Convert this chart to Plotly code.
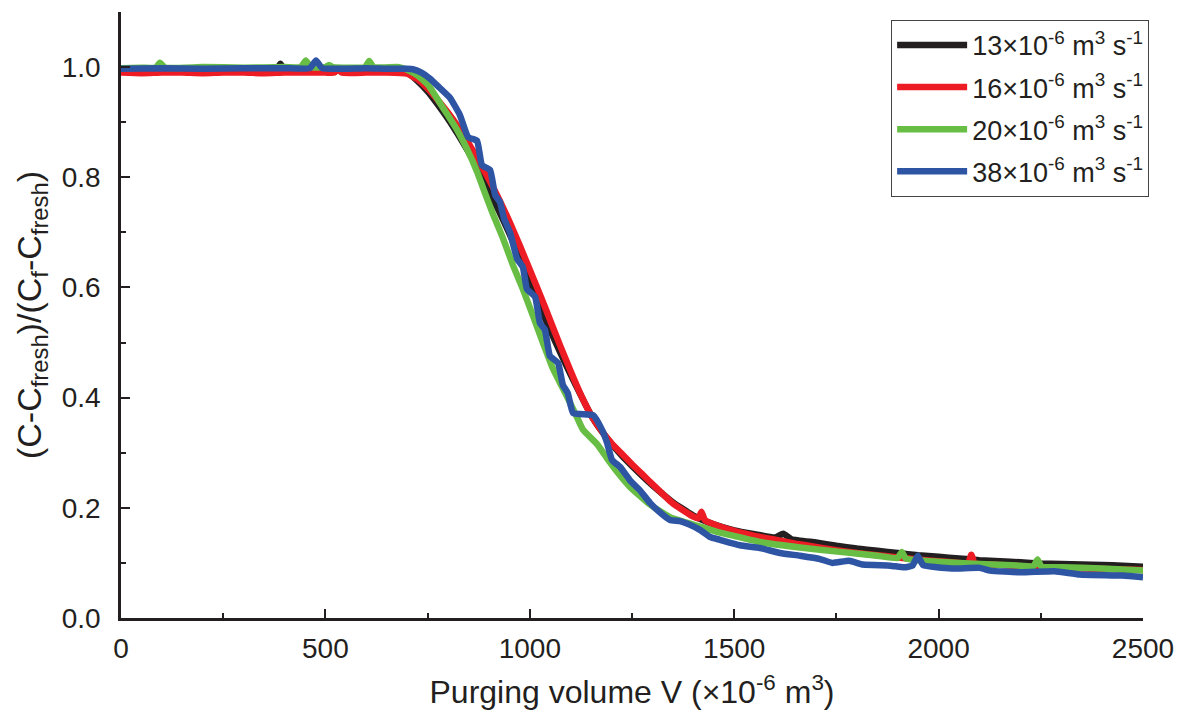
import plotly.graph_objects as go

# ---------------- data ----------------
x_13 = [0, 50, 100, 150, 200, 250, 300, 350, 380, 390, 400, 450, 500, 550, 600, 650, 700,
        725, 750, 775, 800, 825, 850, 875, 900, 925, 950, 975, 1000, 1025, 1050, 1075,
        1100, 1125, 1150, 1175, 1200, 1225, 1250, 1275, 1300, 1350, 1400, 1450, 1500,
        1550, 1600, 1620, 1640, 1700, 1750, 1800, 1850, 1900, 1950, 2000, 2050, 2100,
        2150, 2200, 2250, 2300, 2350, 2400, 2450, 2500]
y_13 = [0.993, 0.994, 0.993, 0.994, 0.993, 0.994, 0.994, 0.994, 0.995, 1.006, 0.995, 0.994,
        0.994, 0.994, 0.995, 0.994, 0.99,
        0.975, 0.956, 0.932, 0.906, 0.877, 0.846, 0.812, 0.776, 0.738, 0.698, 0.655, 0.61,
        0.565, 0.522, 0.481, 0.442, 0.404, 0.368, 0.34, 0.316, 0.295, 0.276, 0.258, 0.241,
        0.21, 0.186, 0.17, 0.159, 0.152, 0.146, 0.153, 0.143, 0.137, 0.131, 0.126, 0.122,
        0.118, 0.114, 0.111, 0.108, 0.105, 0.103, 0.101, 0.099, 0.098, 0.097, 0.096, 0.095,
        0.093]

x_16 = [0, 50, 100, 150, 200, 250, 300, 350, 400, 450, 500, 522, 531, 540, 600, 650, 700,
        725, 750, 775, 800, 825, 850, 875, 900, 925, 950, 975, 1000, 1025, 1050, 1075, 1100,
        1125, 1150, 1175, 1200, 1225, 1250, 1275, 1300, 1350, 1400, 1412, 1420, 1428, 1450,
        1500, 1550, 1600, 1650, 1700, 1750, 1800, 1850, 1900, 1950, 2000, 2050, 2072, 2080,
        2088, 2100, 2150, 2200, 2250, 2300, 2350, 2400, 2450, 2500]
y_16 = [0.99, 0.989, 0.99, 0.99, 0.989, 0.99, 0.99, 0.989, 0.99, 0.99, 0.99, 0.99, 0.997, 0.99,
        0.99, 0.99, 0.988,
        0.978, 0.961, 0.94, 0.917, 0.891, 0.862, 0.83, 0.796, 0.76, 0.72, 0.677, 0.632,
        0.587, 0.54, 0.493, 0.448, 0.405, 0.368, 0.34, 0.317, 0.298, 0.279, 0.261, 0.243,
        0.208, 0.184, 0.181, 0.193, 0.178, 0.17, 0.158, 0.149, 0.142, 0.135, 0.129, 0.123,
        0.118, 0.114, 0.11, 0.106, 0.103, 0.1, 0.099, 0.115, 0.099, 0.098, 0.096, 0.094,
        0.092, 0.091, 0.09, 0.089, 0.088, 0.087]

x_20 = [0, 50, 85, 95, 108, 200, 300, 400, 440, 452, 464, 500, 509, 518, 597, 607, 618, 680,
        700, 725, 751, 780, 800, 822, 846, 871, 886, 910, 934, 959, 983, 1008, 1032, 1057,
        1091, 1115, 1130, 1164, 1189, 1213, 1245, 1294, 1343, 1416, 1465, 1500, 1563, 1661,
        1759, 1850, 1900, 1910, 1920, 2000, 2100, 2200, 2232, 2242, 2252, 2300, 2400, 2500]
y_20 = [0.998, 0.999, 0.999, 1.008, 0.999, 1.0, 0.999, 1.0, 1.0, 1.012, 1.0, 1.0, 1.004, 1.0,
        1.0, 1.011, 1.0, 1.0,
        0.995, 0.985, 0.968, 0.935, 0.912, 0.886, 0.852, 0.81, 0.78, 0.733, 0.69, 0.64,
        0.597, 0.548, 0.5, 0.452, 0.402, 0.365, 0.342, 0.316, 0.29, 0.266, 0.238, 0.206,
        0.183, 0.166, 0.155, 0.149, 0.138, 0.128, 0.12, 0.113, 0.109, 0.12, 0.108, 0.102,
        0.098, 0.095, 0.094, 0.106, 0.093, 0.092, 0.09, 0.086]

x_38 = [0, 100, 200, 300, 400, 462, 477, 492, 550, 600, 650, 700, 714, 735, 756, 780, 805,
        829, 849, 871, 883, 903, 915, 927, 937, 952, 969, 983, 993, 1013, 1025, 1037, 1049,
        1069, 1081, 1093, 1106, 1155, 1177, 1189, 1201, 1221, 1245, 1269, 1294, 1318, 1343,
        1367, 1392, 1416, 1441, 1465, 1514, 1563, 1612, 1661, 1710, 1740, 1781, 1815, 1882,
        1915, 1936, 1949, 1962, 2032, 2101, 2126, 2201, 2284, 2345, 2450, 2500]
y_38 = [0.997, 0.998, 0.997, 0.998, 0.998, 0.998, 1.012, 0.998, 0.997, 0.998, 0.997, 0.997,
        0.996, 0.99, 0.979, 0.962, 0.944, 0.913, 0.873, 0.866, 0.822, 0.813, 0.768, 0.755,
        0.725, 0.699, 0.652, 0.637, 0.597, 0.583, 0.535, 0.523, 0.476, 0.463, 0.423, 0.408,
        0.372, 0.368, 0.341, 0.318, 0.287, 0.274, 0.25, 0.232, 0.209, 0.192, 0.178, 0.176,
        0.169, 0.16, 0.147, 0.142, 0.132, 0.127, 0.118, 0.113, 0.107, 0.1, 0.104, 0.097,
        0.095, 0.092, 0.095, 0.113, 0.096, 0.09, 0.091, 0.086, 0.083, 0.085, 0.079, 0.077,
        0.074]

series_names = ["13×10<sup>-6</sup> m<sup>3</sup> s<sup>-1</sup>",
                "16×10<sup>-6</sup> m<sup>3</sup> s<sup>-1</sup>",
                "20×10<sup>-6</sup> m<sup>3</sup> s<sup>-1</sup>",
                "38×10<sup>-6</sup> m<sup>3</sup> s<sup>-1</sup>"]
series_colors = ["#231f20", "#ed1c24", "#68bd45", "#2e54a4"]

x_ticks = [0, 500, 1000, 1500, 2000, 2500]
y_ticks = [0.0, 0.2, 0.4, 0.6, 0.8, 1.0]

# ---------------- figure ----------------
FONT = "Liberation Sans, Arial, sans-serif"
INK = "#231f20"

fig = go.Figure()
for i, (xs, ys, name, col) in enumerate(zip([x_13, x_16, x_20, x_38],
                                            [y_13, y_16, y_20, y_38],
                                            series_names, series_colors)):
    fig.add_trace(go.Scatter(x=xs, y=ys, mode="lines", name=name, legendgroup=f"g{i}",
                             line=dict(color=col, width=6.5, shape="spline", smoothing=0.4)))

# the page body adds an 8 px margin, so the figure is 8 px smaller than the window
fig.update_layout(
    width=1181, height=720,
    margin=dict(l=113, r=46, t=4, b=110, autoexpand=False),
    paper_bgcolor="white", plot_bgcolor="white",
    font=dict(family=FONT, size=27, color=INK),
    showlegend=True,
    legend=dict(
        x=1.006, xanchor="right", y=0.987, yanchor="top",
        bordercolor="#444444", borderwidth=1, bgcolor="white",
        font=dict(family=FONT, size=27, color=INK),
        itemwidth=70, tracegroupgap=4,
    ),
)

fig.update_xaxes(
    range=[0, 2500], tickvals=x_ticks, ticktext=[str(v) for v in x_ticks],
    showgrid=False, zeroline=False, automargin=False,
    showline=True, linecolor=INK, linewidth=2.5,
    ticks="inside", ticklen=9, tickwidth=2, tickcolor=INK,
    minor=dict(dtick=250, ticks="inside", ticklen=5, tickwidth=2, tickcolor=INK, showgrid=False),
    tickfont=dict(family=FONT, size=28, color=INK), ticklabelstandoff=4,
    title=dict(text="Purging volume V (×10<sup>-6</sup> m<sup>3</sup>)",
               font=dict(family=FONT, size=32, color=INK), standoff=18),
)
fig.update_yaxes(
    range=[0, 1.1], tickvals=y_ticks, ticktext=[f"{v:.1f}" for v in y_ticks],
    showgrid=False, zeroline=False, automargin=False,
    showline=True, linecolor=INK, linewidth=2.5,
    ticks="inside", ticklen=9, tickwidth=2, tickcolor=INK,
    minor=dict(dtick=0.1, ticks="inside", ticklen=5, tickwidth=2, tickcolor=INK, showgrid=False),
    tickfont=dict(family=FONT, size=28, color=INK), ticklabelstandoff=12,
    title=dict(text="(C-C<sub>fresh</sub>)/(C<sub>f</sub>-C<sub>fresh</sub>)",
               font=dict(family=FONT, size=34, color=INK), standoff=10),
)

fig.write_html("out.html")
